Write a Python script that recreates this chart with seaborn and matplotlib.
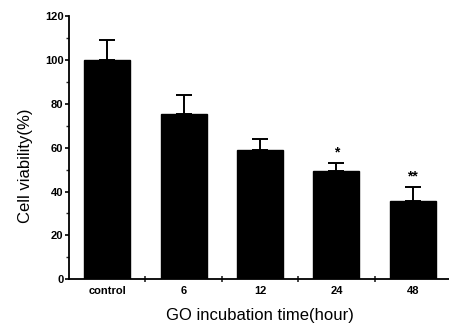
import matplotlib
matplotlib.use("Agg")
import matplotlib.pyplot as plt
import seaborn as sns
import pandas as pd
import numpy as np
from matplotlib.ticker import MultipleLocator, FixedLocator

categories = ["control", "6", "12", "24", "48"]
viability = [100, 75.5, 59, 49.5, 35.6]
err = [9, 8.5, 5, 3.5, 6.5]
stars = ["", "", "", "*", "**"]

sns.set_theme(style="white")
plt.rcParams['font.family'] = ['Liberation Sans', 'DejaVu Sans']

df = pd.DataFrame({"time": categories, "viability": viability})

fig = plt.figure(figsize=(4.49, 3.26), dpi=100)
ax = fig.add_axes([69/449, 46.7/326, 382/449, 263.3/326])

sns.barplot(data=df, x="time", y="viability", order=categories, color="black",
            width=0.6, errorbar=None, ax=ax, saturation=1, edgecolor="black")

xs = np.arange(len(categories))
ax.errorbar(xs, viability, yerr=[np.zeros(len(err)), err], fmt="none",
            ecolor="black", elinewidth=1.4, capsize=6, capthick=1.4)

for x, v, e, s in zip(xs, viability, err, stars):
    if s:
        ax.text(x, v + e + 1.5, s, ha="center", va="bottom", fontsize=10,
                fontweight="bold", color="black")

ax.set_xlim(-0.5, 4.5)
ax.set_ylim(0, 120)
ax.yaxis.set_major_locator(MultipleLocator(20))
ax.yaxis.set_minor_locator(MultipleLocator(10))
ax.xaxis.set_minor_locator(FixedLocator([0.5, 1.5, 2.5, 3.5]))

for sp in ["top", "right"]:
    ax.spines[sp].set_visible(False)
for sp in ["left", "bottom"]:
    ax.spines[sp].set_linewidth(1.3)
    ax.spines[sp].set_color("black")

ax.tick_params(axis="y", which="major", direction="out", length=3, width=1.2,
               labelsize=8, pad=1, left=True, colors="black")
ax.tick_params(axis="y", which="minor", direction="out", length=2, width=1, left=True)
ax.tick_params(axis="x", which="major", length=0, labelsize=8, pad=5, colors="black")
ax.tick_params(axis="x", which="minor", direction="inout", length=4, width=1.2, bottom=True)
for lab in ax.get_xticklabels() + ax.get_yticklabels():
    lab.set_fontweight("bold")

ax.set_xlabel("GO incubation time(hour)", fontsize=12, color="black")
ax.set_ylabel("Cell viability(%)", fontsize=12, color="black")
ax.xaxis.set_label_coords(0.5, -0.108)
ax.yaxis.set_label_coords(-0.094, 0.43)

fig.savefig("out.png", dpi=100)
